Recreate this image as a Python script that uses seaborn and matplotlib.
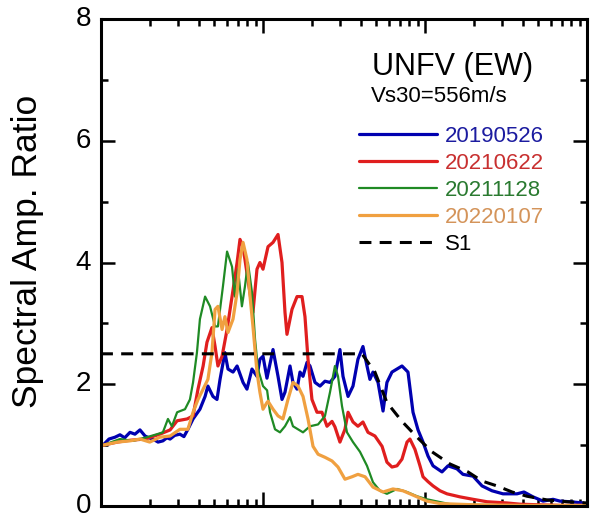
import numpy as np
import pandas as pd
import matplotlib
matplotlib.use("Agg")
import matplotlib.pyplot as plt
import matplotlib.transforms as mtransforms
import seaborn as sns
from matplotlib.ticker import LogLocator, NullFormatter, MultipleLocator

# ---------------- data ----------------
event_names = ["20190526", "20210622", "20211128", "20220107"]

freq_0526 = [0.103, 0.112, 0.122, 0.131, 0.140, 0.151, 0.162, 0.174, 0.187, 0.198, 0.209, 0.225,
             0.241, 0.255, 0.267, 0.285, 0.307, 0.325, 0.344, 0.370,
             0.408, 0.439, 0.457, 0.491, 0.520, 0.543, 0.582, 0.608, 0.653, 0.692, 0.753, 0.796,
             0.855, 0.918, 0.957, 1.00, 1.058, 1.153, 1.238, 1.310, 1.367, 1.468, 1.531, 1.622,
             1.692, 1.766, 1.870, 1.950, 2.094, 2.249, 2.413, 2.592, 2.780, 2.985, 3.118, 3.350,
             3.594, 3.855, 4.140, 4.385, 4.571, 4.775, 5.129, 5.508, 5.821, 6.252, 6.714, 7.211,
             7.852, 8.433, 9.057, 9.723, 10.44, 11.21, 12.73, 13.87, 15.76, 17.15, 19.79, 22.49,
             25.92, 30.30, 36.98, 40.83, 46.42, 53.58, 61.70, 68.13, 78.52, 94.48]
amp_0526 = [1.00, 1.10, 1.13, 1.17, 1.12, 1.21, 1.18, 1.25, 1.15, 1.12, 1.10, 1.05,
            1.07, 1.12, 1.10, 1.16, 1.18, 1.14, 1.26, 1.43,
            1.59, 1.80, 1.97, 1.80, 1.75, 2.08, 2.52, 2.25, 2.20, 2.30, 2.03, 1.92,
            2.25, 2.13, 2.41, 2.46, 2.10, 2.57, 2.13, 1.75, 1.87, 2.30, 2.03, 1.92,
            2.20, 2.13, 2.36, 2.30, 2.03, 1.97, 2.05, 2.03, 2.13, 2.57, 2.13, 1.80,
            1.97, 2.41, 2.62, 2.30, 2.08, 2.20, 2.03, 1.56, 2.03, 2.20, 2.25, 2.30,
            2.20, 1.54, 1.25, 1.05, 0.82, 0.66, 0.56, 0.66, 0.61, 0.52, 0.49, 0.33,
            0.25, 0.20, 0.20, 0.23, 0.15, 0.08, 0.11, 0.08, 0.07, 0.05]

freq_0622 = [0.103, 0.126, 0.151, 0.187, 0.231, 0.267, 0.295, 0.340, 0.370, 0.397, 0.427, 0.451,
             0.484, 0.506, 0.527, 0.559, 0.600, 0.644, 0.692, 0.721, 0.753, 0.807, 0.867, 0.918,
             0.957, 1.00, 1.074, 1.153, 1.238, 1.310, 1.367, 1.406, 1.510, 1.622, 1.741, 1.816,
             1.896, 2.005, 2.154, 2.312, 2.483, 2.667, 2.780, 2.985, 3.206, 3.350, 3.594, 3.855,
             4.140, 4.446, 4.909, 5.433, 5.821, 6.252, 6.714, 7.211, 7.745, 8.072, 8.670, 9.311,
             9.723, 10.44, 11.21, 12.38, 13.67, 16.44, 19.79, 24.13, 32.06, 38.55, 50.0, 70.0, 100.0]
amp_0622 = [1.00, 1.05, 1.08, 1.10, 1.18, 1.25, 1.40, 1.43, 1.48, 1.92, 2.30, 2.69,
            2.93, 2.62, 2.30, 2.46, 2.90, 3.44, 4.00, 4.38, 4.26, 3.72, 3.18, 3.89,
            4.00, 3.89, 4.26, 4.33, 4.46, 4.00, 3.18, 2.82, 3.23, 3.44, 3.44, 3.11,
            2.41, 1.75, 1.54, 1.54, 1.31, 1.39, 1.30, 1.05, 1.26, 1.54, 1.38, 1.31,
            1.38, 1.21, 1.15, 0.98, 0.72, 0.64, 0.66, 0.77, 1.05, 1.10, 0.93, 0.66,
            0.48, 0.40, 0.33, 0.25, 0.20, 0.15, 0.11, 0.07, 0.05, 0.03, 0.02, 0.01, 0.01]

freq_1128 = [0.103, 0.131, 0.158, 0.192, 0.222, 0.241, 0.259, 0.274, 0.295, 0.330, 0.354, 0.370,
             0.391, 0.408, 0.439, 0.471, 0.506, 0.527, 0.566, 0.600, 0.644, 0.671, 0.701, 0.741,
             0.774, 0.807, 0.855, 0.893, 0.931, 1.00, 1.06, 1.105, 1.186, 1.273, 1.367, 1.468,
             1.531, 1.644, 1.766, 1.950, 2.188, 2.413, 2.592, 2.780, 2.904, 3.074, 3.300, 3.594,
             3.970, 4.385, 4.775, 5.272, 5.821, 6.714, 7.745, 8.933, 10.29, 14.26, 20.0, 40.0, 100.0]
amp_1128 = [1.00, 1.10, 1.07, 1.13, 1.18, 1.21, 1.43, 1.31, 1.54, 1.59, 1.75, 2.03,
            2.52, 3.07, 3.44, 3.28, 2.95, 2.95, 3.61, 4.18, 3.93, 3.44, 3.89, 3.28,
            3.61, 4.00, 3.51, 2.74, 2.25, 1.97, 1.90, 1.54, 1.26, 1.21, 1.31, 1.46,
            1.31, 1.26, 1.21, 1.31, 1.34, 1.48, 1.87, 2.30, 2.13, 1.64, 1.21, 1.05,
            0.89, 0.66, 0.39, 0.25, 0.20, 0.28, 0.23, 0.16, 0.11, 0.03, 0.02, 0.01, 0.01]

freq_0107 = [0.103, 0.126, 0.151, 0.174, 0.200, 0.231, 0.267, 0.307, 0.344, 0.370, 0.397, 0.427,
             0.457, 0.484, 0.506, 0.527, 0.559, 0.582, 0.608, 0.653, 0.692, 0.721, 0.753, 0.796,
             0.832, 0.867, 0.918, 0.957, 1.00, 1.058, 1.074, 1.153, 1.238, 1.328, 1.426, 1.531,
             1.644, 1.766, 1.896, 2.036, 2.188, 2.413, 2.667, 2.904, 3.206, 3.543, 3.855, 4.266,
             4.775, 5.508, 6.339, 7.311, 8.933, 10.29, 12.38, 20.0, 40.0, 100.0]
amp_0107 = [1.00, 1.05, 1.07, 1.10, 1.05, 1.13, 1.15, 1.26, 1.26, 1.54, 1.75, 1.92,
            2.08, 2.52, 3.23, 3.28, 2.90, 3.11, 2.85, 3.07, 3.51, 4.05, 4.33, 4.05,
            3.44, 2.95, 2.20, 1.87, 1.59, 1.70, 1.72, 1.59, 1.48, 1.43, 1.75, 2.03,
            1.97, 1.80, 1.43, 0.98, 0.85, 0.80, 0.74, 0.64, 0.44, 0.48, 0.52, 0.48,
            0.31, 0.23, 0.28, 0.25, 0.15, 0.08, 0.04, 0.02, 0.01, 0.01]

s1_name = "S1"
freq_s1 = [0.1, 4.08, 4.909, 5.821, 7.211, 8.933, 11.05, 14.26, 18.41, 22.49, 27.80, 34.50,
           42.66, 56.62, 75.34, 100.0]
amp_s1 = [2.5, 2.5, 2.2, 1.7, 1.39, 1.13, 0.89, 0.69, 0.56, 0.41, 0.33, 0.23,
          0.16, 0.10, 0.07, 0.05]

title_text = "UNFV (EW)"
vs30_text = "Vs30=556m/s"
y_label = "Spectral Amp. Ratio"
y_ticks = [0, 2, 4, 6, 8]

# ---------------- styling ----------------
sns.set_style("ticks")
plt.rcParams["font.family"] = ["Liberation Sans", "DejaVu Sans"]
plt.rcParams["text.color"] = "black"
plt.rcParams["axes.labelcolor"] = "black"

line_colors = ["#0000b0", "#e01e1e", "#1f8a24", "#f0a040"]
text_colors = ["#1c1ca0", "#c83030", "#2a7a30", "#d4945a"]
line_widths = [2.3, 2.3, 1.6, 2.3]

fig = plt.figure(figsize=(6.07, 5.20), dpi=100)
ax = fig.add_axes([101 / 607, 14 / 520, 486 / 607, 487 / 520])

series = [(freq_0526, amp_0526), (freq_0622, amp_0622), (freq_1128, amp_1128), (freq_0107, amp_0107)]
for (fx, ay), name, c, lw in zip(series, event_names, line_colors, line_widths):
    df = pd.DataFrame({"freq": fx, "amp": ay})
    sns.lineplot(data=df, x="freq", y="amp", ax=ax, color=c, linewidth=lw,
                 sort=False, estimator=None, label=name)

df_s1 = pd.DataFrame({"freq": freq_s1, "amp": amp_s1})
sns.lineplot(data=df_s1, x="freq", y="amp", ax=ax, color="black", linewidth=2.2,
             linestyle=(0, (3.9, 2.7)), sort=False, estimator=None, label=s1_name)

ax.set_xscale("log")
ax.set_xlim(0.1, 100)
ax.set_ylim(0, 8)
ax.set_yticks(y_ticks)
ax.yaxis.set_minor_locator(MultipleLocator(1))
ax.xaxis.set_major_locator(LogLocator(base=10, numticks=10))
ax.xaxis.set_minor_locator(LogLocator(base=10, subs=np.arange(2, 10), numticks=20))
ax.xaxis.set_minor_formatter(NullFormatter())
ax.set_xlabel("")
ax.set_ylabel(y_label, fontsize=25.5, color="black")
ax.yaxis.set_label_coords(-0.118, 0.523)

ax.tick_params(which="both", direction="in", top=True, right=True, bottom=True, left=True,
               labelbottom=False, colors="black")
ax.tick_params(which="major", length=10, width=1.8, labelsize=20, pad=7)
ax.tick_params(which="minor", length=5, width=1.8)
shift_up = mtransforms.ScaledTranslation(0, 3 / 100, fig.dpi_scale_trans)
for lab in ax.get_yticklabels():
    lab.set_verticalalignment("center_baseline")
    lab.set_transform(lab.get_transform() + shift_up)
for sp in ax.spines.values():
    sp.set_linewidth(2.2)
    sp.set_color("black")

ax.text(0.558, 0.902, title_text, transform=ax.transAxes, fontsize=22, ha="left", va="center")
ax.text(0.556, 0.840, vs30_text, transform=ax.transAxes, fontsize=16, ha="left", va="center")

handles, labels = ax.get_legend_handles_labels()
ax.legend(handles, labels, loc="upper left", bbox_to_anchor=(0.531, 0.781),
          frameon=False, fontsize=16, handlelength=3.5, handletextpad=0.36,
          labelspacing=0.27, borderpad=0, borderaxespad=0,
          labelcolor=text_colors + ["black"])

fig.savefig("out.png", dpi=100)
